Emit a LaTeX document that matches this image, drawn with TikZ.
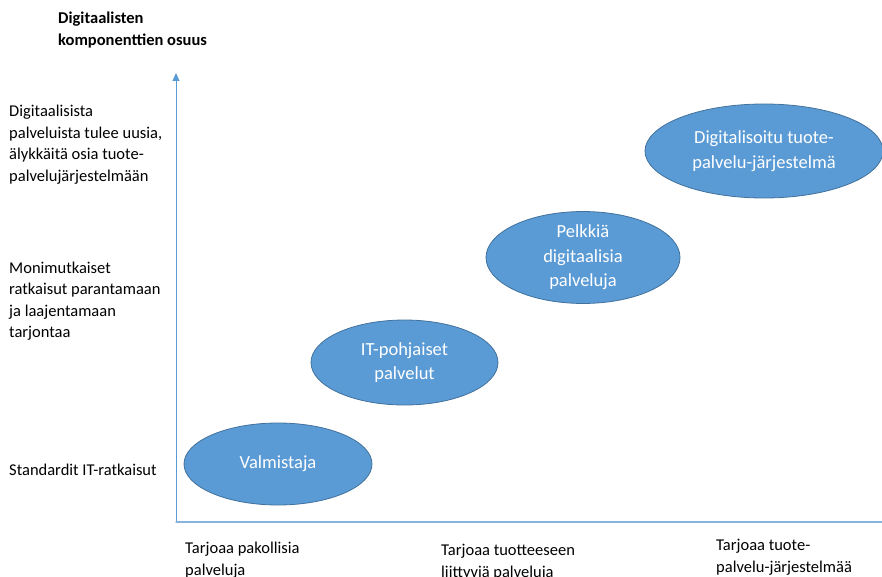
\documentclass[tikz,border=0pt]{standalone}
\usepackage{fontspec}
\setmainfont{Carlito}
\usetikzlibrary{shapes.geometric,arrows.meta}
\definecolor{sininen}{HTML}{5B9BD5}
\definecolor{reuna}{HTML}{41719C}
\begin{document}
\begin{tikzpicture}[x=1pt, y=-1pt, line join=round, line cap=round, >={Triangle[width=7pt,length=8pt]},
    kupla/.style={ellipse, draw=reuna, fill=sininen, line width=0.8pt, inner sep=0pt, text=white, align=center, font=\fontsize{18.5}{24.5}\selectfont},
    taso/.style={anchor=base west, align=left, inner sep=0pt, font=\fontsize{16.5}{21.5}\selectfont}]
    \useasboundingbox (0,0) rectangle (882,577);
    \def\xo{176} \def\yo{522} % origo
    \def\yt{73} \def\xp{882} % akselien päät
    \coordinate (O) at (\xo,\yo);
    \coordinate (ykarki) at (\xo,\yt);
    \coordinate (xpaa) at (\xp,\yo);
    \draw[->, sininen, line width=1pt] (O) -- (ykarki);
    \draw[sininen!75, line width=1.2pt] (O) -- (xpaa);
    % base = viimeisen rivin perusviiva
    \node[taso, font=\bfseries\fontsize{16.5}{22}\selectfont] (otsikko) at (58,46) {Digitaalisten\\komponenttien osuus};
    % pystyakselin tasot
    \node[taso] (taso3) at (9,181.5) {Digitaalisista\\palveluista tulee uusia,\\älykkäitä osia tuote-\\palvelujärjestelmään};
    \node[taso] (taso2) at (9,337.5) {Monimutkaiset\\ratkaisut parantamaan\\ja laajentamaan\\tarjontaa};
    \node[taso] (taso1) at (9,475) {Standardit IT-ratkaisut};
    % vaaka-akselin tasot
    \node[taso] (tarjous1) at (185,575) {Tarjoaa pakollisia\\palveluja};
    \node[taso] (tarjous2) at (441,577) {Tarjoaa tuotteeseen\\liittyviä palveluja};
    \node[taso] (tarjous3) at (716,572) {Tarjoaa tuote-\\palvelu-järjestelmää};
    % kuplat
    \node[kupla, minimum width=188pt, minimum height=82pt] (valmistaja) at (278,464) {Valmistaja};
    \node[kupla, minimum width=187pt, minimum height=85pt] (itpalvelut) at (404.5,362.5) {IT-pohjaiset\\palvelut};
    \node[kupla, minimum width=194pt, minimum height=85pt] (digipalvelut) at (583,257.5) {Pelkkiä\\digitaalisia\\palveluja};
    \node[kupla, minimum width=238pt, minimum height=94pt] (jarjestelma) at (764,151) {Digitalisoitu tuote-\\palvelu-järjestelmä};
\end{tikzpicture}
\end{document}
